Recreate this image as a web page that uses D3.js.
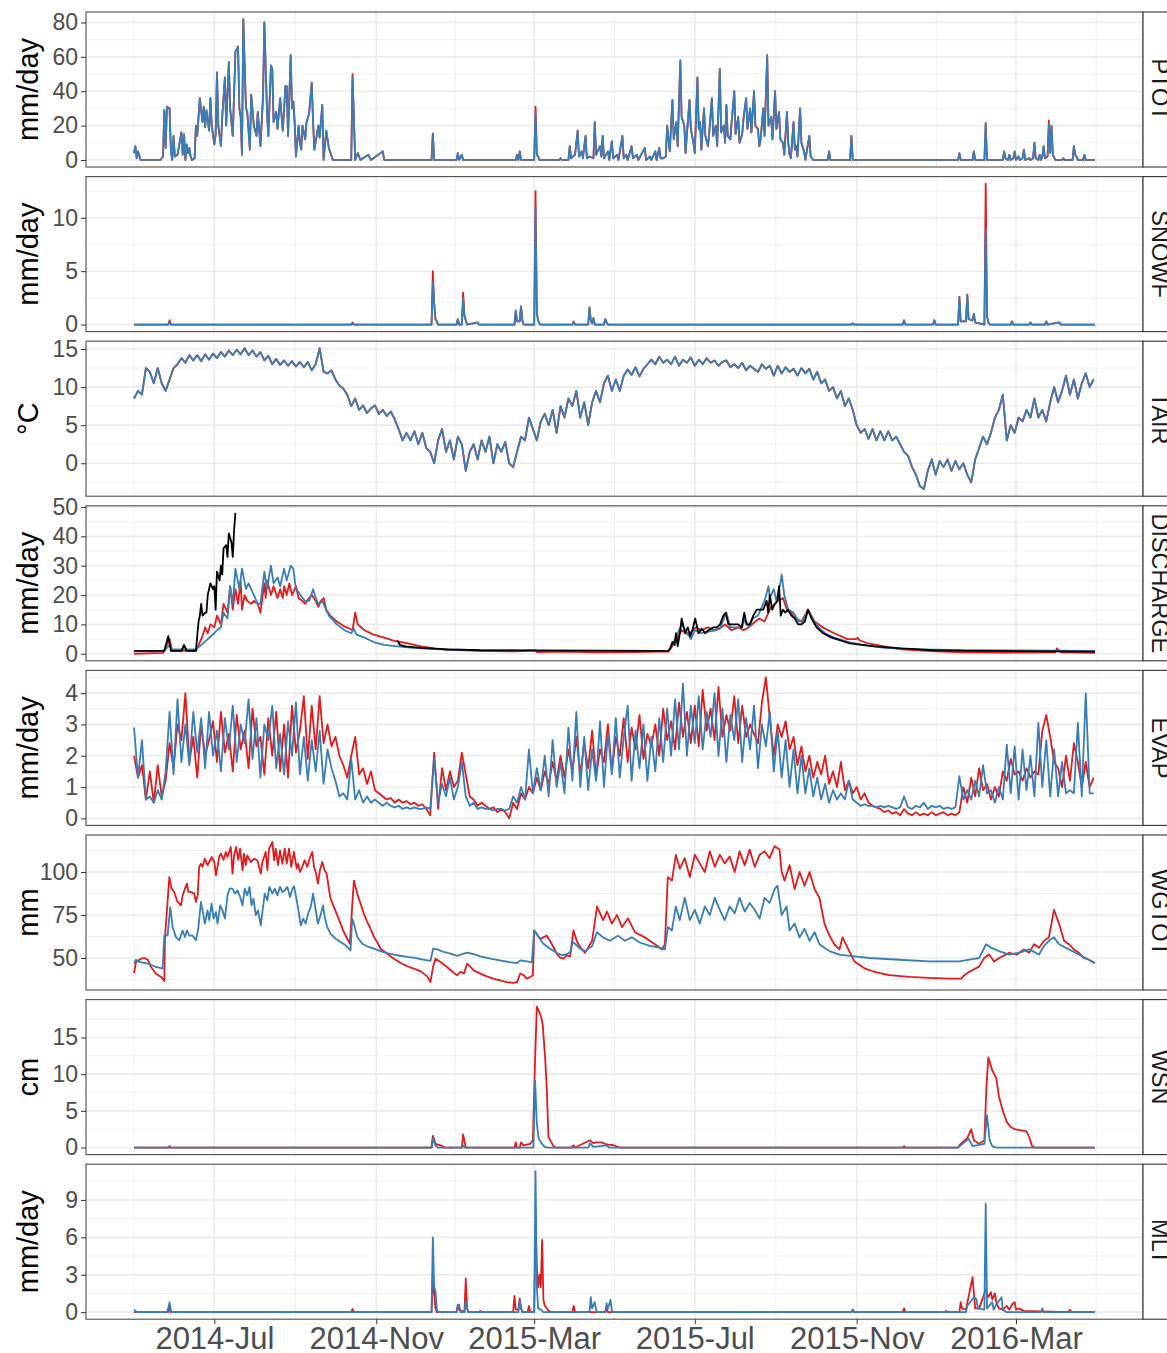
<!DOCTYPE html>
<html>
<head>
<meta charset="utf-8">
<script src="https://cdn.jsdelivr.net/npm/d3@7"></script>
<style>
  body { margin: 0; background: #fff; }
  svg { display: block; font-family: "Liberation Sans", Arial, Helvetica, sans-serif; }
</style>
</head>
<body>
<svg id="chart" width="1167" height="1353"></svg>
<script>
// Day offsets are counted from 2014-05-01 (UTC)
const panelNames = ['PTOT', 'SNOWF', 'TAIR', 'DISCHARGE', 'EVAP', 'WGTOT', 'WSN', 'MLT'];
const panelUnits = ['mm/day', 'mm/day', '°C', 'mm/day', 'mm/day', 'mm', 'cm', 'mm/day'];
const yTickValues = [
    [0, 20, 40, 60, 80],
    [0, 5, 10],
    [0, 5, 10, 15],
    [0, 10, 20, 30, 40, 50],
    [0, 1, 2, 3, 4],
    [50, 75, 100],
    [0, 5, 10, 15],
    [0, 3, 6, 9]
];
const xTickDates = ['2014-07-01', '2014-11-01', '2015-03-01', '2015-07-01', '2015-11-01', '2016-03-01'];

// PTOT [day, value]
const ptotBlue = [[0,4],[1,8],[2,1],[3,5],[5,0],[20,0],[22,2],[23,29],[24,7],[25,31],[27,30],[28,5],[29,0],[30,14],[31,2],[33,3],
    [36,16],[37,3],[38,15],[39,0],[40,9],[41,4],[42,7],[43,2],[44,0],[46,1],[47,20],[48,14],[50,36],[52,22],[53,31],[54,19],[55,29],
    [57,17],[58,36],[59,20],[61,9],[62,15],[63,51],[64,20],[65,14],[66,8],[67,25],[69,48],[70,20],[72,57],[73,30],[75,14],[77,63],
    [79,66],[80,30],[81,25],[82,3],[83,82],[85,30],[86,28],[88,6],[89,38],[91,20],[93,14],[94,28],[96,8],[98,37],[99,80],[101,28],
    [102,14],[104,55],[105,53],[106,22],[108,28],[109,18],[111,36],[113,17],[115,43],[116,43],[117,14],[119,61],[120,30],[121,34],
    [122,22],[123,2],[125,20],[126,10],[127,6],[128,20],[130,12],[131,22],[133,27],[135,45],[136,22],[137,6],[140,20],[141,13],
    [143,32],[144,0],[146,17],[148,7],[151,0],[165,0],[166,48],[168,0],[170,4],[172,0],[178,3],[180,0],[189,5],[190,0],
    [226,0],[227,15],[228,0],[245,0],[246,4],[247,0],[249,3],[250,0],[290,0],[291,3],[292,0],[293,5],[294,0],[304,0],[305,28],
    [306,3],[307,2],[308,0],[323,0],[324,1],[325,0],[330,0],[331,8],[332,1],[335,3],[337,17],[338,2],[340,5],[341,1],[343,14],
    [344,1],[346,2],[349,1],[350,22],[351,3],[354,8],[355,2],[356,14],[357,1],[360,5],[361,0],[363,11],[364,1],[367,3],[368,0],
    [371,14],[372,1],[374,3],[375,0],[378,8],[379,1],[382,3],[383,0],[388,7],[389,0],[392,2],[393,0],[396,5],[397,0],[399,7],
    [400,1],[402,1],[404,2],[405,20],[407,5],[409,35],[410,12],[412,22],[413,8],[415,58],[416,25],[418,20],[419,4],[420,15],
    [422,35],[423,18],[425,10],[426,4],[428,48],[429,18],[430,22],[431,6],[433,30],[434,14],[436,8],[437,16],[439,36],[440,14],
    [442,20],[443,8],[445,53],[446,16],[448,20],[449,10],[450,32],[451,14],[453,12],[454,22],[456,40],[457,15],[459,25],[460,10],
    [462,15],[463,24],[465,36],[466,18],[468,30],[469,16],[471,40],[472,20],[474,18],[475,8],[476,12],[478,30],[479,14],[481,61],
    [482,20],[484,25],[485,12],[487,40],[488,18],[490,28],[491,12],[493,10],[494,3],[496,28],[497,10],[498,3],[499,1],[501,22],
    [502,6],[503,8],[504,2],[506,30],[507,10],[509,5],[510,0],[513,14],[514,2],[516,0],[527,0],[528,5],[529,0],[544,0],[545,14],
    [546,0],[626,0],[627,4],[628,0],[637,0],[638,5],[639,0],[646,0],[647,21],[648,0],[660,0],[661,5],[662,1],[664,0],[665,3],
    [666,0],[668,1],[669,5],[670,0],[672,2],[673,0],[675,1],[676,6],[677,0],[680,1],[681,0],[683,1],[684,10],[685,1],[687,0],
    [688,3],[689,0],[690,2],[691,8],[692,1],[694,2],[695,21],[696,4],[697,20],[698,3],[700,0],[705,0],[706,1],[707,0],[713,0],
    [714,8],[715,3],[716,2],[717,0],[721,0],[722,3],[723,0],[730,0]];
const ptotRedPeaks = [[166,50],[227,15.5],[305,31],[647,21.5],[695,23]];

// SNOWF [day, value]
const snowfBlue = [[0,0],[26,0],[27,0.2],[28,0],[165,0],[166,0.1],[167,0],[226,0],[227,4],[228,2],[229,0.5],[230,0.3],[231,0],
    [245,0],[246,0.5],[247,0],[249,0],[250,2.5],[251,0.8],[252,0.4],[253,0],[261,0.2],[262,0],[289,0],[290,1.3],[291,0.3],[293,0.3],
    [294,1.7],[295,0.4],[296,0],[304,0],[305,11],[306,1],[307,0.4],[308,0.1],[309,0],[333,0],[334,0.2],[335,0],[345,0],[346,1.6],
    [347,0.4],[348,0.1],[349,0.6],[350,0],[357,0],[358,0.5],[359,0.2],[360,0],[545,0],[546,0.1],[547,0],[584,0],[585,0.4],[586,0],
    [607,0],[608,0.4],[609,0],[626,0],[627,2.6],[628,0.3],[632,0.3],[633,2.8],[634,0.5],[637,0.4],[638,1],[639,0.2],[646,0],
    [647,9],[648,0.8],[649,0.2],[650,0],[666,0],[667,0.3],[668,0],[680,0],[681,0.2],[682,0],[692,0],[693,0.3],[694,0],[703,0.2],
    [704,0],[730,0]];
const snowfRedPeaks = [[27,0.4],[166,0.2],[227,5],[250,3],[305,12.5],[334,0.3],[647,13.2]];

// TAIR, one value every 3 days
const tairBlue = [
    8.5, 9.5, 9, 12.5, 12, 10.5, 12.5, 10.5, 9.5, 11,
    12.5, 13, 13.8, 13.2, 14.2, 13.5, 14.2, 13.4, 14.3, 13.6,
    14.4, 13.8, 14.6, 14, 14.8, 14.2, 14.9, 14.3, 15.1, 14.2,
    14.8, 14, 14.6, 13.5, 14.1, 13, 13.7, 12.9, 13.5, 12.8,
    13.4, 12.7, 13.3, 12.6, 13.3, 12.2, 13, 15.1, 12, 11.8,
    12.2, 11, 10.2, 9.8, 9, 7.5, 8.5, 7, 7.6, 6.6,
    7.2, 7.6, 6.5, 7, 6.2, 6.8, 5.8, 4.5, 3, 4,
    3, 4.2, 2.5, 4, 2, 1.5, 0, 3, 4.5, 1.5,
    3, 0.5, 3.5, 2.5, -1, 1.5, 2.5, 0.5, 3, 1.5,
    3.5, 0, 2.5, 1.5, 2.8, 0, -0.5, 1.5, 3.5, 3,
    6, 4.5, 3, 5.5, 6.5, 5, 7, 4, 7.5, 6,
    8.5, 7.5, 9.5, 6, 8, 5, 8, 9.5, 8, 10.5,
    11.5, 9.5, 11, 9.5, 11.5, 12.3, 11.6, 12.6, 11.4, 12.4,
    13, 13.6, 13, 14, 13.2, 13.6, 13, 14, 12.8, 13.6,
    13.2, 13.9, 12.8, 13.6, 13, 13.8, 13.2, 13.5, 12.8, 13.3,
    13.5, 12.6, 13, 12.5, 13.2, 12.2, 12.8, 12.4, 12, 13,
    12.4, 12.8, 11.5, 12.8, 11.8, 12.6, 12, 12.4, 11.5, 12.5,
    11.8, 12.4, 11, 12, 10.5, 11, 9.5, 10, 8.5, 9.5,
    7.5, 8.5, 7, 5, 4, 4.5, 3.2, 4.5, 3, 4.2,
    3, 4.2, 3, 3.5, 2.5, 1.5, 1, -0.5, -1.5, -3,
    -3.4, -1, 0.5, -1.5, 0.3, -0.5, 0.5, -1, 0.3, -0.8,
    0, -1.5, -2.5, 0.5, 2, 3.5, 2.5, 4, 6, 7,
    9, 3, 5, 4, 6, 5.5, 7, 6, 8.5, 6,
    7, 5.5, 8, 10, 8, 9.5, 11.5, 9, 11, 8.5,
    10.5, 11.8, 10, 11];
const tairRed = tairBlue;

// DISCHARGE [day, value]
const dischRed = [[0,0],[22,0.3],[27,5],[29,1],[47,1],[50,4],[52,6],[54,9],[56,7],[58,10],[61,9],[63,13],[66,10],[68,17],[71,14],
    [73,23],[75,15],[77,22],[79,17],[81,25],[82,15],[84,20],[86,18],[89,17],[91,18],[94,17],[96,14],[99,24],[100,19],[101,25],
    [104,20],[106,23],[109,19],[111,22],[113,19],[114,23],[116,20],[118,24],[120,20],[123,23],[125,19],[128,18],[130,17],[133,19],
    [135,20],[138,18],[140,16],[142,18],[144,19],[146,15],[149,13],[154,11],[159,9.5],[164,8.5],[166,8],[168,14],[170,10],[175,8],
    [182,6.5],[190,5.5],[197,4.5],[208,3.5],[218,2.5],[228,1.8],[238,1.3],[263,1],[290,0.8],[305,1.2],[306,0.6],[330,0.7],[350,0.5],
    [380,0.6],[400,0.7],[406,0.7],[411,4],[416,8],[421,6.5],[427,9],[431,8],[436,9],[441,8],[446,9],[449,10],[454,8],[459,9],
    [463,8],[467,9],[472,11],[475,12],[479,11],[482,14],[484,16],[487,17],[489,18],[493,19],[496,15],[499,14],[503,12],[507,11],
    [512,15],[517,11],[523,9],[532,7],[542,5],[548,5],[550,5.4],[551,4.6],[558,3.5],[570,2.5],[583,1.5],[608,0.8],[633,0.5],
    [658,0.4],[700,0.5],[701,1.8],[704,0.5],[730,0.3]];
const dischBlue = [[0,1],[23,1],[27,3],[29,1.5],[47,1.5],[51,3],[56,5],[61,7],[63,8],[66,9],[68,14],[71,12],[73,23],[75,17],[77,29],
    [80,22],[82,29],[85,22],[87,24],[90,21],[94,17],[96,17],[99,28],[101,22],[104,30],[106,24],[109,26],[111,23],[114,29],[116,25],
    [119,30],[121,29],[123,22],[125,21],[128,19],[130,18],[133,18],[136,22],[138,19],[140,17],[143,18],[145,16],[148,13],[154,10],
    [160,8],[165,7],[167,8.5],[169,6.5],[175,5.5],[182,4],[190,3],[200,2.5],[212,2],[228,1.6],[263,1.2],[330,1.1],[400,1],[406,1],
    [411,5],[416,10],[419,8],[423,5],[426,8],[431,7],[436,7.5],[442,8],[445,8.5],[450,14],[453,9],[457,9],[462,9],[464,12],[467,9],
    [470,12],[474,13],[477,16],[479,18],[482,23],[483,19],[486,22],[488,18],[491,24],[492,27],[494,20],[497,15],[501,14],[505,11],
    [508,11],[512,15],[515,12],[520,9],[525,7],[532,5.5],[543,4],[553,3],[570,2],[596,1.5],[633,1.2],[730,1]];
const dischObs = [[0,1],[23,1],[26,6],[28,1],[36,1],[38,3],[40,1],[47,1],[49,11],[50,13],[51,17],[52,13],[54,14],[55,14],[56,20],
    [58,24],[60,22],[61,23],[62,15],[63,28],[65,25],[66,30],[67,27],[68,36],[70,37],[71,33],[72,41],[74,38],[75,33],[76,42],[77,48],
    [78,null],[200,4.5],[202,3],[206,2.5],[218,2],[238,1.5],[263,1.2],[330,1.1],[400,1],[406,1],[407.5,2],[409,4],[410.7,3],
    [411.7,7],[413,2.5],[415,8],[416,12],[418.7,7],[420.7,9],[422.5,6],[424.2,8],[426.3,12],[428.8,7],[431.3,8.5],[433.9,7],
    [436.4,8],[440.2,9],[442.7,9],[445.2,10],[447.7,13],[449.5,14],[451.5,10],[455.3,10],[459,10],[461.6,9],[463.6,14],[465.3,10],
    [467.9,10],[470.4,13],[473,15],[475.5,15],[478,15],[480.6,18],[481.8,14],[483,20],[484.8,15],[486.8,17],[488.8,18],[490,23],
    [491.3,13],[493,15],[494.8,14],[496.8,15],[499.4,13],[502,12],[504.5,10],[507,10],[509.6,11],[512,15],[514.7,12],[518.5,9],
    [523.5,7],[529.8,5.5],[537.4,4.5],[543.7,3.5],[550,3.2],[562.7,2.5],[583,1.8],[608,1.2],[633,1],[730,0.7]];

// EVAP, one value every 3 days
const evapRed = [
    2.0, 1.3, 1.7, 0.6, 1.5, 0.5, 1.7, 0.7, 1.2, 2.4,
    1.6, 3.0, 2.5, 4.0, 1.8, 2.6, 1.3, 3.0, 2.0, 2.5,
    3.1, 1.8, 3.4, 2.1, 2.7, 1.5, 3.3, 2.2, 2.8, 1.6,
    3.5, 2.3, 2.6, 1.4, 3.2, 2.0, 3.4, 1.5, 3.0, 1.3,
    3.6, 2.1, 2.8, 3.9, 1.9, 3.6, 2.2, 3.9, 2.4, 3.0,
    2.3, 2.6, 2.0, 1.7, 1.3, 2.0, 2.6, 1.4, 1.6, 1.1,
    1.5, 0.9, 0.8, 0.7, 0.6, 0.65, 0.5, 0.6, 0.5, 0.55,
    0.45, 0.5, 0.4, 0.45, 0.3, 0.1, 2.1, 0.3, 1.6, 0.9,
    1.5, 1.0, 1.2, 2.1, 1.4, 0.7, 0.6, 0.4, 0.5, 0.4,
    0.3, 0.35, 0.2, 0.3, 0.2, 0.0, 0.5, 0.3, 0.8, 0.6,
    1.0, 0.8, 1.3, 0.9, 1.5, 1.1, 1.8, 1.2, 2.0, 1.3,
    2.2, 1.5, 2.6, 1.4, 2.4, 1.6, 2.8, 1.3, 2.2, 1.8,
    3.0, 1.5, 2.6, 2.0, 3.2, 1.8, 2.9, 2.2, 3.3, 1.9,
    2.7, 2.3, 3.0, 2.0, 3.5, 2.5, 3.1, 2.2, 3.7, 2.6,
    3.4, 2.4, 3.6, 2.3, 4.1, 2.8, 3.5, 2.5, 4.2, 2.6,
    3.3, 2.8, 3.9, 2.4, 3.6, 2.6, 3.0, 2.7, 2.4, 3.7,
    4.5, 3.2, 2.0, 3.0, 2.6, 3.1, 2.2, 2.6, 1.7, 2.3,
    1.5, 2.0, 1.3, 1.8, 1.4, 2.0, 1.1, 1.5, 1.0, 1.8,
    0.9, 1.2, 0.8, 1.0, 0.6, 0.8, 0.5, 0.4, 0.35, 0.3,
    0.2, 0.25, 0.15, 0.2, 0.1, 0.3, 0.15, 0.1, 0.2, 0.1,
    0.15, 0.1, 0.2, 0.1, 0.15, 0.2, 0.1, 0.15, 0.1, 0.2,
    1.0, 0.5, 1.3, 0.7, 1.6, 0.9, 1.1, 0.6, 1.0, 0.7,
    1.5, 1.2, 1.9, 1.4, 1.5, 1.2, 1.6, 1.3, 1.5, 1.4,
    2.8, 3.3, 2.6, 1.8, 1.6, 1.0, 2.0, 1.2, 2.4, 1.8,
    1.0, 1.8, 1.0, 1.3];
const evapBlue = [
    2.9, 1.3, 2.5, 0.6, 0.7, 0.5, 0.9, 0.6, 1.5, 3.4,
    1.4, 3.8, 1.8, 3.0, 1.7, 3.4, 2.1, 3.2, 1.6, 3.4,
    2.0, 2.8, 1.5, 3.2, 2.2, 3.6, 1.8, 3.0, 2.4, 3.8,
    1.9, 3.2, 1.3, 3.0, 2.5, 3.6, 1.6, 2.7, 1.4, 3.1,
    2.0, 3.7, 1.4, 2.6, 1.2, 2.5, 1.5, 2.8, 1.1, 2.2,
    1.6, 1.2, 0.7, 0.8, 0.6, 1.9, 0.6, 0.9, 0.5, 0.7,
    0.5, 0.6, 0.5, 0.4, 0.5, 0.4, 0.35, 0.4, 0.3, 0.35,
    0.3, 0.35, 0.3, 0.3, 0.35, 0.3, 1.9, 0.5, 1.1, 0.7,
    1.3, 0.6, 1.0, 1.8, 0.7, 0.4, 0.5, 0.3, 0.35, 0.3,
    0.3, 0.25, 0.3, 0.3, 0.25, 0.3, 0.7, 0.5, 1.0, 0.6,
    2.2, 0.8, 1.6, 0.9, 2.0, 0.7, 2.5, 1.0, 1.8, 0.8,
    2.9, 1.2, 3.4, 1.0, 2.6, 0.9, 2.2, 1.2, 3.1, 1.0,
    2.7, 1.4, 3.2, 1.3, 2.6, 3.6, 1.2, 2.8, 1.6, 3.0,
    1.2, 2.6, 1.5, 3.2, 1.8, 3.5, 2.0, 3.8, 2.2, 4.3,
    2.0, 3.6, 2.4, 3.9, 2.2, 3.4, 2.6, 4.0, 2.0, 3.5,
    1.8, 3.3, 2.5, 3.8, 1.8, 3.2, 2.2, 3.6, 1.6, 3.0,
    2.3, 3.4, 1.5, 2.8, 1.3, 2.5, 1.0, 2.2, 0.8, 2.0,
    0.8, 1.6, 0.7, 1.3, 0.6, 1.1, 0.5, 0.9, 0.6, 0.8,
    0.6, 1.2, 0.6, 0.5, 0.4, 0.45, 0.4, 0.4, 0.35, 0.4,
    0.35, 0.4, 0.35, 0.3, 0.35, 0.7, 0.35, 0.3, 0.4, 0.35,
    0.5, 0.3, 0.4, 0.35, 0.4, 0.3, 0.35, 0.3, 0.35, 1.35,
    0.6, 0.9, 0.6, 1.2, 0.7, 1.7, 0.8, 0.9, 0.5, 1.0,
    0.6, 2.35, 0.8, 2.3, 0.6, 2.2, 0.9, 2.0, 0.7, 3.05,
    1.0, 2.5, 0.7, 2.2, 0.7, 1.8, 0.8, 0.9, 0.8, 3.05,
    0.7, 4.0, 0.8, 0.8];

// WGTOT [day, value]
const wgtotRed = [[0,41.3],[1.5,47.7],[5.3,49.6],[7.8,50],[10.4,49],[12.9,44.8],[16.7,40.9],[20.5,39],[23,36.6],[23.5,62],[26.8,97],
    [28.5,90.3],[30.5,88.4],[33,82.6],[35.6,80.6],[36.9,86.4],[38.7,90.3],[40.2,93.2],[41.2,88.4],[43.2,88.4],[45.8,87.4],[47,82.6],
    [48.3,86.4],[49.5,102.9],[50.8,104.8],[52,103],[53.8,107.7],[55.8,103.9],[57.1,105.8],[58.9,108.7],[61,105.8],[62.2,98],
    [63.4,103],[64.7,108.7],[66,110.7],[68,107],[69.7,111.6],[71,108.7],[73.5,114.5],[74.8,99],[76,109.7],[77.6,114.5],[79.1,107],
    [80.6,113.6],[82.4,101],[83.6,110.7],[84.9,104],[86,109.7],[88.7,105.8],[91.2,107.7],[93.7,106.8],[96.3,99],[97.5,105.8],
    [100,111.6],[101.3,101],[102.6,113.6],[105.1,117.4],[106.4,106.8],[107.6,113.6],[109.4,104],[110.9,112.6],[112.7,104.8],
    [114.5,113.6],[116,104.8],[117.7,113.6],[119.5,103],[121.5,111.6],[123.6,102],[124.6,104.8],[126.1,100],[127.8,103],[129.6,106.8],
    [131.6,103],[133.7,108.7],[135.4,111.6],[136.7,103],[138,100],[139.7,93.2],[141.2,101],[143,105.8],[144.8,101],[146.3,99],
    [148,90.3],[149.3,84.5],[151.8,79.7],[154.4,74.8],[156.9,70],[159.4,65],[162,61.2],[164,58.3],[165.7,80],[167,95],[169.6,87.4],
    [172.1,81.6],[174.6,75.8],[177.1,71],[179.7,67],[182.2,62.2],[184.7,59.3],[187.3,55.4],[192.3,52.5],[197.4,49.6],[202.5,47.1],
    [207.5,45.2],[212.5,43.8],[217.6,42.4],[222.7,39.3],[225.2,36],[227.2,45],[229,49.6],[232.8,47.7],[237.8,44.8],[243,41.3],
    [245.5,40],[248,42],[250.6,41],[253,46.7],[255.6,44.8],[258,42.8],[263,40.9],[268,39.3],[273,38],[278,37],[283,36],[288.3,35.5],
    [291,36],[293.4,41],[296,40],[298.5,38],[301,39],[303,40],[304,66],[306,64],[308.5,61],[311,62],[313.6,63],[316,60],[318.6,56.4],
    [321,52.5],[323.7,50.2],[326.2,49.6],[328.7,51.5],[331.3,51],[333.8,66],[336.3,60],[338.8,56.4],[342.6,53],[348,60],[351.7,80],
    [356.3,72],[359.3,77],[363,70],[366.9,75],[370.7,68],[375.2,73],[380.5,65],[388,62],[395.7,58],[401,55],[403.3,58],[405.5,97],
    [408.6,95],[411.6,110],[414.6,102],[418.4,108],[422.2,97],[426,110],[429.8,105],[433.6,100],[437.4,112],[441.2,103],[445,110],
    [448.7,105],[452.5,109],[456.3,100],[460,112],[463.9,104],[467.7,113],[471.5,103],[475.3,110],[479,112],[482.8,108],[486.6,115],
    [490.4,113],[492,100],[494.2,95],[498,104],[501.8,90],[505.6,100],[509.4,92],[513.2,100],[517,90],[520.7,85],[524.5,70],
    [528.3,63],[532,58],[535.9,55],[538.2,62],[542,56],[547.3,48],[554.9,44],[562.4,42],[573.8,40],[589,39],[604,38.5],[619.3,38],
    [628.4,38],[630.7,40],[634.5,42],[642,45],[645.8,50],[649.6,52],[653.4,48],[657.2,50],[664.8,53],[670.8,52],[676,55],[680,53],
    [683.7,58],[687.5,56],[691.3,60],[695,62],[698.9,78],[702.7,70],[706.5,60],[710.2,58],[714,55],[717.8,53],[721.6,50],
    [725.4,49],[730,47]];
const wgtotBlue = [[0,46.7],[1.5,49],[4,47.7],[10.4,46.7],[15.4,45.2],[21.7,43.8],[23,63.2],[25.5,63.2],[27.5,79.6],[29.3,68],
    [31.8,62.2],[34.4,60.3],[36.9,66],[38.7,62.2],[40.2,66],[42,63],[44.5,63],[47,60.3],[48.8,67],[50.8,82.6],[52.3,76.7],[53.8,70],
    [55.8,77.7],[57.1,72],[58.9,81.6],[60.4,72.9],[62.2,76.7],[63.4,70],[65.5,80.6],[67.2,77.7],[69,72.9],[71,86.4],[72.5,90.3],
    [74.8,90.3],[76.6,87.4],[78.6,89.3],[80.6,85.5],[82.4,80.6],[84.1,90.3],[86,86.4],[87.7,91.3],[89.2,80.6],[90.7,84.5],
    [92.5,74.8],[94.2,77.7],[96.3,69],[97.5,76.7],[99.3,87.4],[101.3,83.5],[102.8,91.3],[105.1,87.4],[106.9,90.3],[108.9,86.4],
    [110.9,91.3],[112.7,88.4],[114.5,89.3],[116.5,91.3],[118.5,85.5],[120.3,90.3],[121.5,91.7],[123.6,83.5],[125.3,75.8],[126.6,69],
    [128.6,72.9],[130.4,70],[132.2,75.8],[134.2,79.6],[136,87.4],[138,77.7],[139.7,70],[141.7,74.8],[143.5,80.6],[144.8,74],
    [146.8,68],[149.3,64],[153.1,61.2],[156.9,59.3],[160.7,57.4],[164.5,54.5],[165.7,72.9],[167,70],[169.6,62.2],[173.4,58.3],
    [177.1,56.8],[182.2,55.4],[187.3,54],[192.3,52.9],[200,51.6],[207.5,50.6],[212.5,50.2],[217.6,49.4],[225.2,48.3],[227.2,55.4],
    [230.3,55],[235.3,53.5],[240.4,52.5],[245.5,51.2],[249.3,52.2],[253,53.1],[258,52.2],[263,51],[270.6,49.6],[278,48.6],
    [285.8,47.5],[291,47.1],[293.4,48.6],[298.5,48],[302.2,47.5],[304,66],[307.4,62.2],[311,58.3],[316,55.4],[321,53],[325,51.6],
    [328.7,52.2],[331.3,53.5],[333.3,59.3],[336.3,57.4],[338.8,55.4],[342.6,54],[348,57],[351.7,65],[356.3,62],[361.5,60],
    [367.6,63],[372.9,60],[378.2,62],[384.2,59],[391.8,57],[399.3,56],[403.3,55],[405.5,68],[408.6,66],[411.6,80],[414.6,72],
    [418.4,85],[422.2,72],[426,78],[429.8,70],[433.6,80],[437.4,75],[441.2,85],[445,78],[448.7,72],[452.5,80],[456.3,76],[460,85],
    [463.9,77],[467.7,82],[471.5,78],[475.3,73],[479,85],[482.8,82],[486.6,90],[488.8,92],[492,75],[495.7,80],[498,66],[501.8,70],
    [505.6,62],[509.4,67],[513.2,60],[517,65],[520.7,58],[524.5,56],[528.3,54],[535.9,52],[547.3,51],[558.6,50],[581.4,49],
    [604,48],[627,48],[634.5,49],[642,50],[647.3,58],[651,56],[657.2,54],[664.8,52],[672.3,53],[680,55],[687.5,52],[691.3,57],
    [695,60],[698.9,62],[702.7,58],[710.2,55],[717.8,52],[725.4,49],[730,47]];

// WSN [day, value]
const wsnRed = [[0,0],[26,0],[27,0.2],[28,0],[226,0],[227,1.6],[229,0.5],[233,0.3],[236,0],[249,0],[250,1.8],[252,0],[289,0],
    [290,0.7],[291,0],[293,0],[294,0.7],[296,0.3],[301,0.5],[303,1],[304.7,12.2],[306,19.2],[307.3,18.7],[309.3,17.8],[310.5,16.7],
    [312.3,12.2],[313.6,7.8],[314.8,1.5],[316.6,0.85],[318.6,0.2],[320,0],[332,0],[334,0.3],[335,0],[346.4,1],[348.9,0.6],
    [351.5,0.7],[355.3,0.7],[357.8,0.5],[360.3,0.4],[362.8,0.35],[365.4,0.25],[369,0],[584,0],[585,0.2],[586,0],[626,0],[628,0.5],
    [633,1.3],[636,2.5],[638,1],[642,0.5],[646,1],[647.5,8],[649,12.3],[652,10.5],[655,9.5],[657,7],[660,5],[663,3.5],[666,2.8],
    [669,2.5],[672,2.4],[675,2.3],[678,2.2],[680,1.5],[682,0.3],[684,0],[730,0]];
const wsnBlue = [[0,0],[226,0],[227,1.2],[229,0.3],[231,0],[249,0],[250,0.3],[251,0],[303.4,0],[304.7,9.1],[306,3.3],[307.3,1.3],
    [309.5,0.6],[312,0.1],[314,0],[345,0],[346.4,0.6],[349,0.1],[359,0.3],[361,0],[626,0],[628,0.3],[634,1.2],[637,0.2],[646,0.5],
    [648,4.4],[650,1],[652,0.2],[655,0],[730,0]];

// MLT [day, value]
const mltRed = [[0,0],[26,0],[27,0.3],[28,0],[165,0],[166,0.25],[167,0],[226,0],[227,2.9],[228,1.5],[229,0.3],[230,0],[245,0],
    [246,0.6],[247,0.2],[251,0],[252,2.7],[253,0.3],[254,0],[262,0],[263,0.1],[264,0],[288,0],[289,1.3],[290,0.2],[292,0.2],
    [293,1.1],[294,0.3],[295,0],[299,0],[300,0.5],[301,0],[304,0],[305,7],[306,3.5],[307,2],[308,3],[309,2],[310,5.8],[311,1],
    [312,0.5],[313,0.4],[315,0.1],[317,0],[333,0],[334,0.5],[335,0],[358,0],[359,0.4],[360,0],[545,0],[546,0.2],[547,0],[584,0],
    [585,0.3],[586,0],[616,0],[617,0.1],[618,0],[627,0],[628,0.8],[629,0.3],[632,0.2],[637,2.8],[639,0.3],[642,0.3],[647,1.8],
    [649,1.2],[651,1.6],[652,1],[654,1.5],[655,0.8],[657,0.3],[660,0.2],[663,0.5],[665,0.2],[667,0.6],[669,0.8],[670,0.2],
    [672,0.3],[674,0.2],[676,0.1],[710,0],[711,0.2],[712,0],[730,0]];
const mltBlue = [[0,0.2],[1,0.1],[2,0],[25,0],[26,0.3],[27,0.8],[28,0.1],[29,0],[226,0],[227,6],[228,2],[229,1.7],[230,0.2],[231,0],
    [245,0],[246,0.5],[247,0.6],[248,0],[251,0],[252,0.9],[253,0.3],[254,0],[292,0],[293,0.9],[294,0.3],[295,0],[304,0],[305,11.3],
    [306,2],[307,0.3],[309,0.2],[311,0],[346,0],[347,1.2],[348,0.3],[350,0.8],[351,0.2],[352,0],[358,0],[359,0.7],[360,0.3],
    [362,1],[363,0.1],[364,0],[545,0],[546,0.2],[547,0],[632,0],[633,0.5],[638,1.2],[640,1],[641,0.3],[646,0.2],[647,8.7],
    [648,0.3],[652,0.8],[653,0.2],[655,0.6],[659,1.2],[660,0.2],[663,0],[689,0],[690,0.3],[691,0],[730,0]];

// Helpers
const RED = '#e41a1c', BLUE = '#377eb8', OBS = '#000000';
const DAY = 864e5;
const t0 = Date.UTC(2014, 4, 1);
const toDate = d => new Date(t0 + d * DAY);
const fromPairs = arr => arr.map(([d, v]) => ({ date: toDate(d), value: v }));
const fromEvery3 = arr => arr.map((v, i) => ({ date: toDate(i * 3), value: v }));
function withPeaks(base, peaks) {
    const m = new Map(peaks);
    return base.map(([d, v]) => [d, m.has(d) ? m.get(d) : v]);
}

const panelSeries = [
    [{ data: fromPairs(withPeaks(ptotBlue, ptotRedPeaks)), color: RED }, { data: fromPairs(ptotBlue), color: BLUE }],
    [{ data: fromPairs(withPeaks(snowfBlue, snowfRedPeaks)), color: RED }, { data: fromPairs(snowfBlue), color: BLUE }],
    [{ data: fromEvery3(tairRed), color: RED }, { data: fromEvery3(tairBlue), color: BLUE }],
    [{ data: fromPairs(dischRed), color: RED }, { data: fromPairs(dischBlue), color: BLUE }, { data: fromPairs(dischObs), color: OBS }],
    [{ data: fromEvery3(evapRed), color: RED }, { data: fromEvery3(evapBlue), color: BLUE }],
    [{ data: fromPairs(wgtotRed), color: RED }, { data: fromPairs(wgtotBlue), color: BLUE }],
    [{ data: fromPairs(wsnRed), color: RED }, { data: fromPairs(wsnBlue), color: BLUE }],
    [{ data: fromPairs(mltRed), color: RED }, { data: fromPairs(mltBlue), color: BLUE }]
];

// Layout
const left = 86, right = 1143;
const firstTop = 12, panelH = 155, panelStep = 164.6;
const svg = d3.select('#chart');

const xStart = toDate(0), xEnd = toDate(730);
const xPad = (xEnd - xStart) * 0.05;
const x = d3.scaleUtc()
    .domain([new Date(+xStart - xPad), new Date(+xEnd + xPad)])
    .range([left, right]);

const parse = d3.utcParse('%Y-%m-%d');
const xMajor = xTickDates.map(parse);
const xExt = [d3.utcMonth.offset(xMajor[0], -4), ...xMajor, d3.utcMonth.offset(xMajor[xMajor.length - 1], 4)];
const xMinor = d3.pairs(xExt).map(([a, b]) => new Date((+a + +b) / 2))
    .filter(d => d >= x.domain()[0] && d <= x.domain()[1]);

panelNames.forEach((name, i) => {
    const top = firstTop + i * panelStep;
    const series = panelSeries[i];
    const ticks = yTickValues[i];
    const vals = series.flatMap(s => s.data.map(d => d.value)).filter(v => v != null);
    const ext = d3.extent(vals);
    const yPad = (ext[1] - ext[0]) * 0.05;
    const y = d3.scaleLinear()
        .domain([ext[0] - yPad, ext[1] + yPad])
        .range([top + panelH, top]);

    const step = ticks[1] - ticks[0];
    const yMinor = d3.range(ticks[0] - step / 2, y.domain()[1], step)
        .filter(v => v >= y.domain()[0] && v <= y.domain()[1]);

    const g = svg.append('g').attr('class', 'panel');

    // grid: minor first, then major
    g.selectAll('.ymin').data(yMinor).enter().append('line')
        .attr('x1', left).attr('x2', right)
        .attr('y1', d => y(d)).attr('y2', d => y(d))
        .attr('stroke', '#ebebeb').attr('stroke-width', 0.8);
    g.selectAll('.xmin').data(xMinor).enter().append('line')
        .attr('x1', d => x(d)).attr('x2', d => x(d))
        .attr('y1', top).attr('y2', top + panelH)
        .attr('stroke', '#ebebeb').attr('stroke-width', 0.8);
    g.selectAll('.ymaj').data(ticks).enter().append('line')
        .attr('x1', left).attr('x2', right)
        .attr('y1', d => y(d)).attr('y2', d => y(d))
        .attr('stroke', '#ebebeb').attr('stroke-width', 1.6);
    g.selectAll('.xmaj').data(xMajor).enter().append('line')
        .attr('x1', d => x(d)).attr('x2', d => x(d))
        .attr('y1', top).attr('y2', top + panelH)
        .attr('stroke', '#ebebeb').attr('stroke-width', 1.6);

    // lines
    const line = d3.line()
        .defined(d => d.value != null)
        .x(d => x(d.date))
        .y(d => y(d.value));
    series.forEach(s => {
        g.append('path')
            .datum(s.data)
            .attr('d', line)
            .attr('fill', 'none')
            .attr('stroke', s.color)
            .attr('stroke-width', 1.8)
            .attr('stroke-linejoin', 'round');
    });

    // panel border
    g.append('rect')
        .attr('x', left).attr('y', top)
        .attr('width', right - left).attr('height', panelH)
        .attr('fill', 'none').attr('stroke', '#4d4d4d').attr('stroke-width', 1.1);

    // strip on the right (runs past the picture edge, as in the original)
    g.append('rect')
        .attr('x', right).attr('y', top)
        .attr('width', 40).attr('height', panelH)
        .attr('fill', '#fff').attr('stroke', '#333').attr('stroke-width', 1.1);
    g.append('text')
        .attr('transform', `translate(1152,${top + panelH / 2}) rotate(90)`)
        .attr('text-anchor', 'middle')
        .attr('font-size', 23.5)
        .attr('fill', '#1a1a1a')
        .text(name);

    // y axis
    const yAxis = g.append('g')
        .attr('transform', `translate(${left},0)`)
        .call(d3.axisLeft(y).tickValues(ticks).tickFormat(d3.format('~g')).tickSize(5).tickPadding(3));
    yAxis.select('.domain').remove();
    yAxis.selectAll('line').attr('stroke', '#333');
    yAxis.selectAll('text')
        .attr('font-family', null)
        .attr('font-size', 23)
        .attr('fill', '#4d4d4d');

    // y title
    g.append('text')
        .attr('transform', `translate(38,${top + panelH / 2}) rotate(-90)`)
        .attr('text-anchor', 'middle')
        .attr('font-size', 29)
        .attr('fill', '#000')
        .text(panelUnits[i]);

    // x axis only under the last panel
    if (i === panelNames.length - 1) {
        const xAxis = g.append('g')
            .attr('transform', `translate(0,${top + panelH})`)
            .call(d3.axisBottom(x).tickValues(xMajor).tickFormat(d3.utcFormat('%Y-%b')).tickSize(5).tickPadding(3));
        xAxis.select('.domain').remove();
        xAxis.selectAll('line').attr('stroke', '#333');
        xAxis.selectAll('text')
            .attr('font-family', null)
            .attr('font-size', 31)
            .attr('fill', '#4d4d4d');
    }
});
</script>
</body>
</html>
